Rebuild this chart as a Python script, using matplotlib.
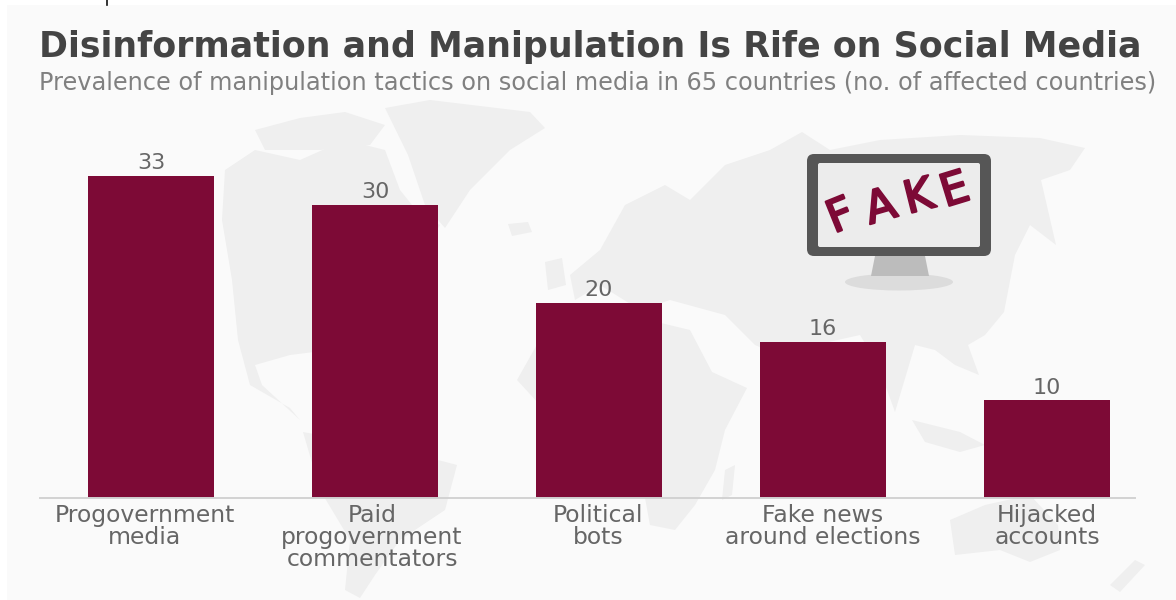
import matplotlib
matplotlib.use("Agg")
import matplotlib.pyplot as plt
import matplotlib.patheffects as pe
from matplotlib.patches import FancyBboxPatch, Polygon, Ellipse, Rectangle
from matplotlib.transforms import ScaledTranslation

categories = ["Progovernment\nmedia", "Paid\nprogovernment\ncommentators",
              "Political\nbots", "Fake news\naround elections", "Hijacked\naccounts"]
values = [33, 30, 20, 16, 10]

TITLE = "Disinformation and Manipulation Is Rife on Social Media"
SUBTITLE = "Prevalence of manipulation tactics on social media in 65 countries (no. of affected countries)"

W, H = 1176, 600
BAR = "#7d0a36"
MAP = "#efefef"
PANEL = "#fafafa"
plt.rcParams["font.family"] = ["DejaVu Sans"]

fig = plt.figure(figsize=(W / 100, H / 100), dpi=100, facecolor="white")

# Backdrop layer in pixel coordinates: panel, world map silhouette, monitor icon
bg = fig.add_axes([0, 0, 1, 1], zorder=0)
bg.set_xlim(0, W)
bg.set_ylim(H, 0)
bg.axis("off")
bg.add_patch(Rectangle((7, 5), W - 7, H - 5, fc=PANEL, ec="none"))
bg.plot([107, 107], [0, 5], color="#111111", lw=1.2)

land = [
    # North America
    [(225, 170), (255, 150), (300, 160), (345, 140), (385, 150), (400, 190), (420, 215),
     (440, 225), (425, 250), (385, 270), (345, 320), (330, 350), (290, 355), (255, 365),
     (262, 385), (300, 420), (290, 408), (250, 385), (238, 340), (232, 280), (222, 220)],
    # Arctic islands
    [(255, 130), (300, 118), (345, 112), (385, 125), (370, 145), (320, 150), (265, 150)],
    # Greenland
    [(385, 108), (430, 100), (530, 112), (545, 128), (510, 150), (470, 190), (445, 228),
     (425, 205), (408, 155)],
    # South America
    [(303, 432), (345, 440), (400, 450), (457, 465), (445, 510), (400, 540), (375, 575),
     (360, 598), (345, 590), (350, 540), (320, 490)],
    # Iceland and Britain
    [(508, 224), (528, 222), (532, 232), (512, 236)],
    [(545, 262), (562, 258), (566, 285), (548, 290)],
    # Eurasia
    [(600, 250), (625, 205), (665, 185), (690, 200), (725, 165), (770, 150), (802, 132),
     (830, 150), (880, 140), (960, 135), (1040, 138), (1085, 148), (1070, 170), (1041, 180),
     (1056, 245), (1030, 225), (1015, 255), (1004, 312), (985, 335), (968, 345), (979, 375),
     (955, 365), (935, 350), (915, 345), (895, 412), (878, 365), (860, 335), (815, 345),
     (795, 362), (755, 345), (725, 315), (670, 300), (640, 310), (600, 285), (575, 300),
     (570, 275)],
    # Africa
    [(548, 325), (600, 312), (640, 318), (690, 330), (712, 372), (747, 388), (725, 430),
     (715, 470), (695, 505), (675, 530), (650, 525), (640, 470), (625, 420), (590, 405),
     (540, 405), (517, 380)],
    # Madagascar
    [(725, 470), (735, 465), (732, 495), (722, 500)],
    # Maritime Southeast Asia
    [(912, 420), (960, 432), (985, 445), (960, 452), (925, 442)],
    [(985, 420), (1030, 425), (1060, 445), (1020, 448), (990, 440)],
    # Australia
    [(950, 520), (985, 505), (1030, 495), (1058, 525), (1060, 550), (1030, 562), (1000, 550),
     (955, 555)],
    # New Zealand
    [(1110, 585), (1135, 560), (1145, 565), (1120, 592)],
]
for shape in land:
    bg.add_patch(Polygon(shape, closed=True, fc=MAP, ec="none"))

# Monitor icon
bg.add_patch(Ellipse((899, 282), 108, 17, fc="#dcdcdc", ec="none"))
bg.add_patch(Polygon([(875, 256), (925, 256), (929, 276), (871, 276)], fc="#bcbcbc", ec="none"))
bg.add_patch(FancyBboxPatch((807, 154), 184, 102, boxstyle="round,pad=0,rounding_size=7",
                            fc="#565656", ec="none"))
bg.add_patch(FancyBboxPatch((818, 163), 162, 84, boxstyle="round,pad=0,rounding_size=2",
                            fc="#ececec", ec="none"))
scrawl = [("F", 841, 217, 22), ("A", 881, 208, 16), ("K", 919, 198, 14), ("E", 955, 191, 17)]
for letter, px, py, angle in scrawl:
    bg.text(px, py, letter, color=BAR, fontsize=32, rotation=angle, ha="center", va="center",
            path_effects=[pe.withStroke(linewidth=1.6, foreground=BAR)])

# Bars share one linear value scale with the baseline at y = 498 px
ax = fig.add_axes([0, (H - 498) / H, 1, (498 - 176) / H / 33 * 40], zorder=1)
ax.patch.set_alpha(0)
x = [151 + 224 * i for i in range(len(values))]
ax.bar(x, values, width=126, color=BAR)
ax.set_xlim(0, W)
ax.set_ylim(0, 40)
ax.set_yticks([])
for s in ["top", "left", "right"]:
    ax.spines[s].set_visible(False)
ax.spines["bottom"].set_bounds(40, 1135)
ax.spines["bottom"].set_color("#d2d2d2")
ax.spines["bottom"].set_linewidth(1.4)
ax.set_xticks(x)
ax.set_xticklabels(categories, fontsize=16.9, color="#666666", linespacing=0.96)
ax.tick_params(axis="x", length=0, pad=4)

# The first two category labels sit slightly left of their bars
for label, shift_px in zip(ax.get_xticklabels(), [-6, -3, -1, 0, 0]):
    label.set_transform(label.get_transform() + ScaledTranslation(shift_px / 100, 0, fig.dpi_scale_trans))

for xi, v in zip(x, values):
    ax.annotate(str(v), (xi, v), xytext=(0, 2), textcoords="offset points",
                ha="center", va="bottom", fontsize=16, color="#666666")

fig.text(39 / W, 1 - 47 / H, TITLE, fontsize=25.1, fontweight="bold", color="#444444", va="center")
fig.text(39 / W, 1 - 83 / H, SUBTITLE, fontsize=17.3, color="#808080", va="center")

fig.savefig("out.png", dpi=100)
